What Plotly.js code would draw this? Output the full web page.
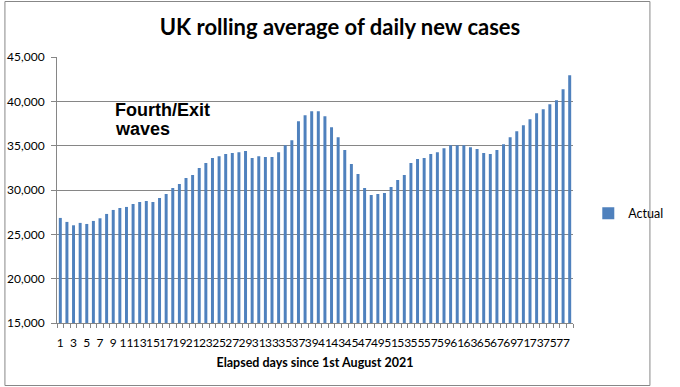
<!DOCTYPE html>
<html>
<head>
<meta charset="utf-8">
<script src="https://cdn.plot.ly/plotly-3.0.1.min.js"></script>
<style>html,body{margin:0;padding:0;background:#fff;}#chart{width:680px;height:387px;}</style>
</head>
<body>
<div id="chart"></div>
<script>
var days = [];
for (var d = 1; d <= 78; d++) days.push(d);

var actual = [
  26850, 26400, 26020, 26290, 26170, 26510, 26810, 27300, 27750, 27970,
  28090, 28420, 28650, 28760, 28650, 29100, 29550, 30220, 30670, 31350,
  31690, 32470, 33040, 33600, 33820, 34050, 34160, 34270, 34390, 33600,
  33820, 33710, 33710, 34270, 35060, 35620, 37760, 38440, 38890, 38890,
  38320, 37090, 35960, 34500, 32920, 31800, 30220, 29440, 29550, 29660,
  30340, 31120, 31690, 33040, 33490, 33600, 34050, 34270, 34720, 35060,
  35060, 35060, 34830, 34610, 34160, 34050, 34500, 35170, 35960, 36640,
  37310, 37990, 38660, 39110, 39670, 40120, 41360, 42930
];

var xTickVals = [];
for (var t = 1; t <= 77; t += 2) xTickVals.push(t);
var xTickText = xTickVals.map(String);

var yTickVals = [15000, 20000, 25000, 30000, 35000, 40000, 45000];
var yTickText = ["15,000", "20,000", "25,000", "30,000", "35,000", "40,000", "45,000"];

var trace = {
  type: 'bar',
  x: days,
  y: actual,
  name: 'Actual',
  width: 0.45,
  marker: {color: '#4F81BD', line: {width: 0}},
  hoverinfo: 'x+y'
};

var layout = {
  width: 680,
  height: 387,
  margin: {l: 57, r: 83, t: 57, b: 64},
  paper_bgcolor: '#ffffff',
  plot_bgcolor: '#ffffff',
  font: {family: 'Lato, "Liberation Sans", sans-serif', size: 12, color: '#000'},
  title: {
    text: '<b>UK rolling average of daily new cases</b>',
    font: {family: 'Lato, "Liberation Sans", sans-serif', size: 22, color: '#000'},
    x: 0.5, xref: 'container', xanchor: 'center',
    y: 1 - 27 / 387, yref: 'container', yanchor: 'middle'
  },
  xaxis: {
    type: 'linear',
    range: [0.5, 78.5],
    tickmode: 'array',
    tickvals: xTickVals,
    ticktext: xTickText,
    tickangle: 0,
    ticks: '',
    ticklabelstandoff: 9,
    showgrid: false,
    zeroline: false,
    showline: true,
    linecolor: '#868686',
    linewidth: 1,
    tickfont: {size: 12, color: '#000'},
    minor: {tick0: 0.5, dtick: 1, ticks: 'outside', ticklen: 4, tickcolor: '#868686', tickwidth: 1, showgrid: false},
    title: {
      text: '<b>Elapsed days since 1st August 2021</b>',
      font: {size: 12.5, color: '#000'},
      standoff: 8
    },
    fixedrange: true
  },
  yaxis: {
    range: [15000, 45000],
    tickmode: 'array',
    tickvals: yTickVals,
    ticktext: yTickText,
    ticks: 'outside',
    ticklen: 5,
    tickcolor: '#868686',
    tickwidth: 1,
    ticklabelstandoff: 4,
    showgrid: true,
    gridcolor: '#868686',
    gridwidth: 1,
    zeroline: false,
    showline: true,
    linecolor: '#868686',
    linewidth: 1,
    tickfont: {size: 12, color: '#000'},
    fixedrange: true
  },
  showlegend: true,
  legend: {
    x: (613 - 57) / 540, xanchor: 'left',
    y: (323 - 213.5) / 266, yanchor: 'middle',
    font: {size: 12.5, color: '#000'},
    bgcolor: 'rgba(0,0,0,0)',
    itemwidth: 30
  },
  annotations: [
    {
      text: '<b>Fourth/Exit</b>', x: 8.9, y: 39000, xref: 'x', yref: 'y',
      xanchor: 'left', yanchor: 'middle', showarrow: false,
      font: {family: '"Liberation Sans", Arial, sans-serif', size: 18, color: '#000'}
    },
    {
      text: '<b>waves</b>', x: 8.9, y: 36850, xref: 'x', yref: 'y',
      xanchor: 'left', yanchor: 'middle', showarrow: false,
      font: {family: '"Liberation Sans", Arial, sans-serif', size: 18, color: '#000'}
    }
  ],
  shapes: [
    {
      type: 'rect', xref: 'paper', yref: 'paper',
      x0: (2.5 - 57) / 540, x1: (677.5 - 57) / 540,
      y0: (323 - 385.5) / 266, y1: (323 - 1.5) / 266,
      line: {color: '#878787', width: 1}, fillcolor: 'rgba(0,0,0,0)', layer: 'below'
    }
  ],
  bargap: 0.55
};

Plotly.newPlot('chart', [trace], layout, {displayModeBar: false, staticPlot: true});
</script>
</body>
</html>
